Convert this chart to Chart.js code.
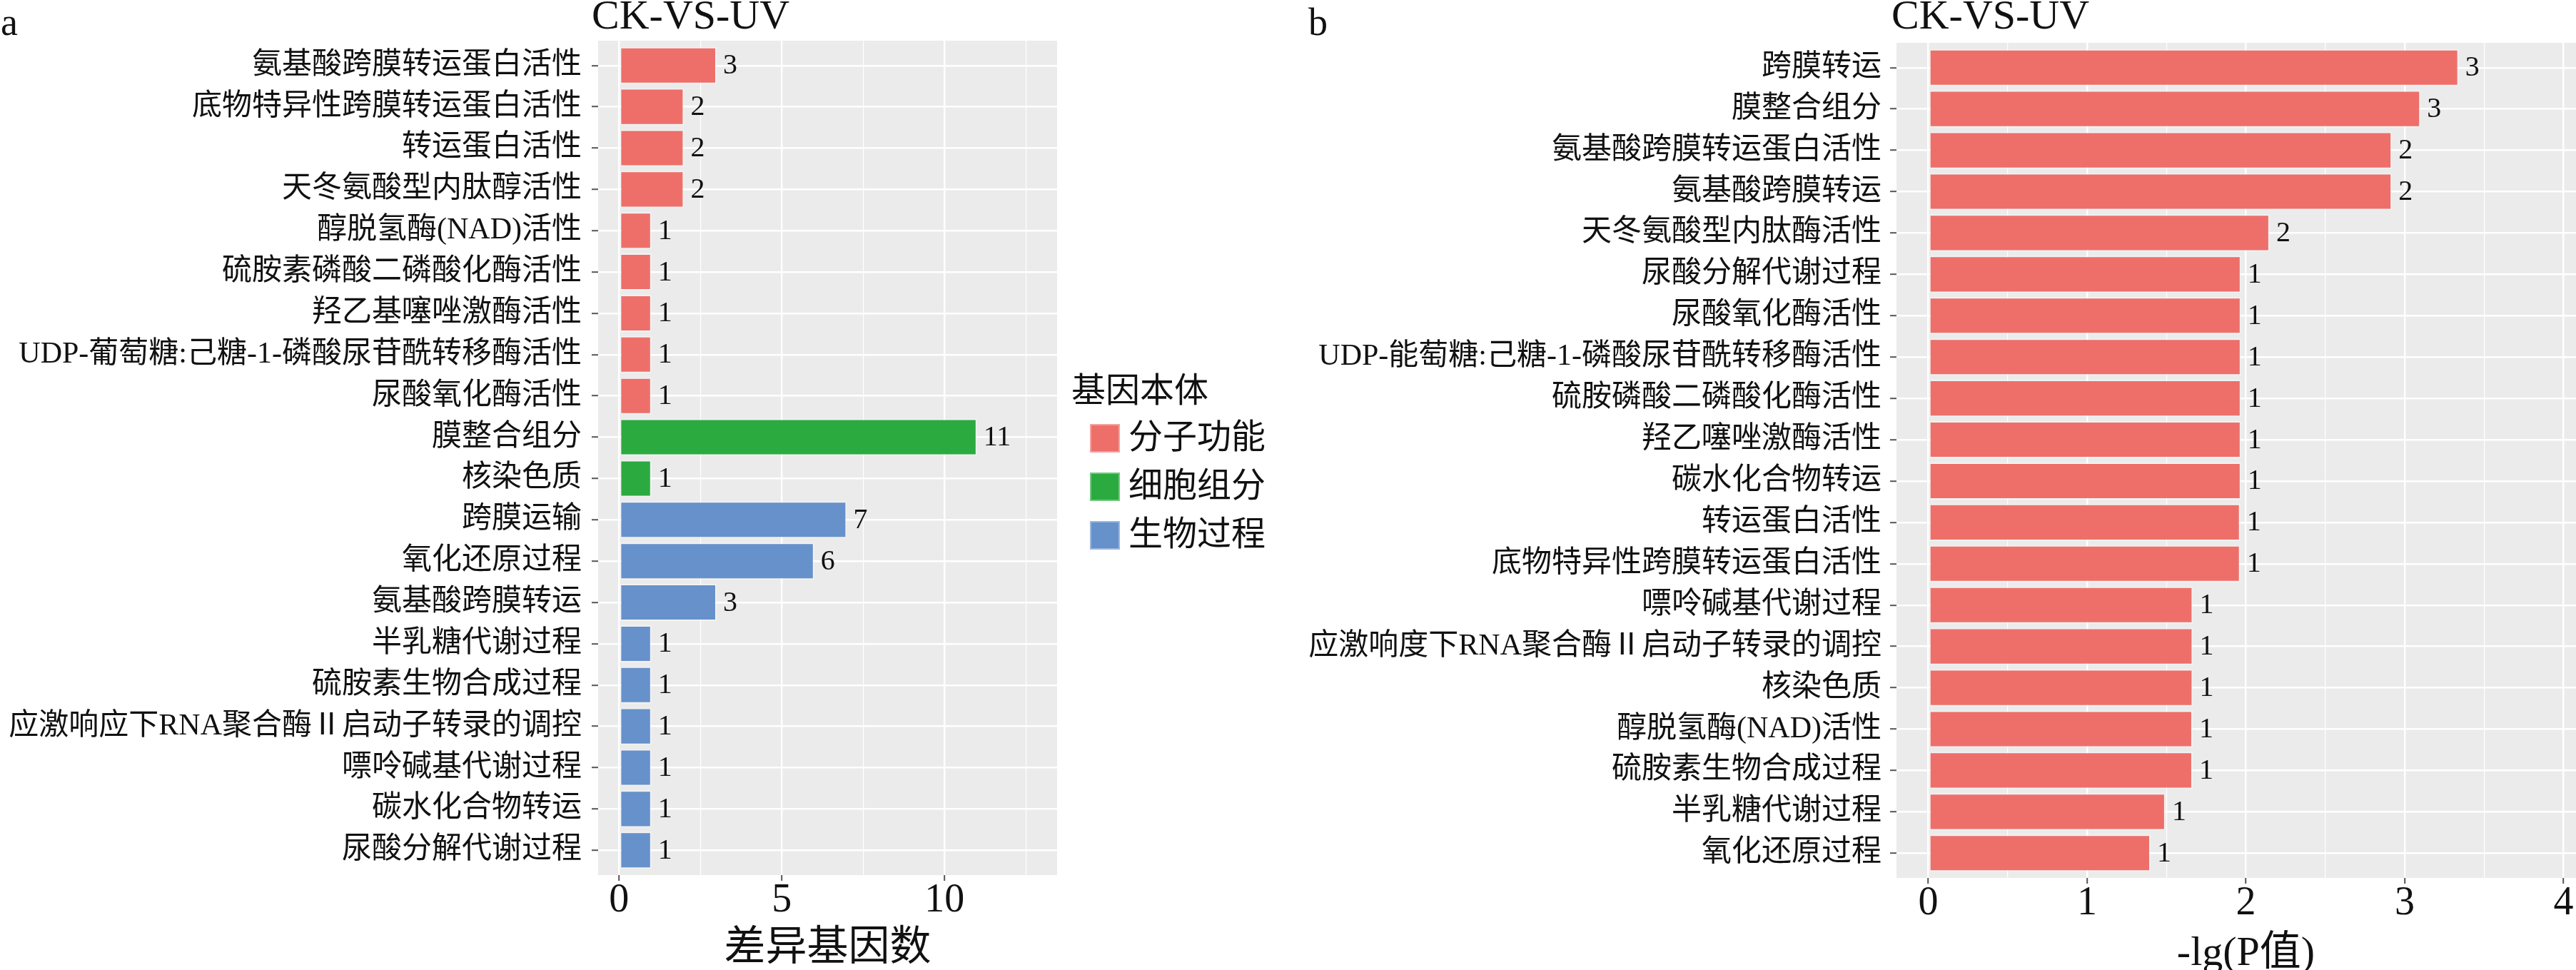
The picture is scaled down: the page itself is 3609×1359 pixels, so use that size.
<!DOCTYPE html>
<html><head><meta charset="utf-8">
<script src="https://cdn.jsdelivr.net/npm/chart.js@4.4.1/dist/chart.umd.min.js"></script>
<style>
html,body{margin:0;padding:0;background:#fff;width:3609px;height:1359px;overflow:hidden;}
#wrap{position:relative;width:3609px;height:1359px;overflow:hidden;background:#fff;}
canvas{position:absolute;top:0;}
#ca{left:0;}
#cb{left:1800px;}
</style></head><body>
<div id="wrap"><canvas id="ca" width="1790" height="1359"></canvas><canvas id="cb" width="1860" height="1366"></canvas></div>
<script>
// ---------- data ----------
const titleText = 'CK-VS-UV';
const panelLetters = ['a', 'b'];

const catsA = [
  '氨基酸跨膜转运蛋白活性',
  '底物特异性跨膜转运蛋白活性',
  '转运蛋白活性',
  '天冬氨酸型内肽醇活性',
  '醇脱氢酶(NAD)活性',
  '硫胺素磷酸二磷酸化酶活性',
  '羟乙基噻唑激酶活性',
  'UDP-葡萄糖:己糖-1-磷酸尿苷酰转移酶活性',
  '尿酸氧化酶活性',
  '膜整合组分',
  '核染色质',
  '跨膜运输',
  '氧化还原过程',
  '氨基酸跨膜转运',
  '半乳糖代谢过程',
  '硫胺素生物合成过程',
  '应激响应下RNA聚合酶Ⅱ启动子转录的调控',
  '嘌呤碱基代谢过程',
  '碳水化合物转运',
  '尿酸分解代谢过程'
];
const valsA = [3, 2, 2, 2, 1, 1, 1, 1, 1, 11, 1, 7, 6, 3, 1, 1, 1, 1, 1, 1];
const groupsA = [0, 0, 0, 0, 0, 0, 0, 0, 0, 1, 1, 2, 2, 2, 2, 2, 2, 2, 2, 2];
const legendTitle = '基因本体';
const groupNames = ['分子功能', '细胞组分', '生物过程'];
const groupColors = ['#EE6F6A', '#2BAA40', '#6691CB'];
const xTicksA = [0, 2.5, 5, 7.5, 10, 12.5];
const xTitleA = '差异基因数';

const catsB = [
  '跨膜转运',
  '膜整合组分',
  '氨基酸跨膜转运蛋白活性',
  '氨基酸跨膜转运',
  '天冬氨酸型内肽酶活性',
  '尿酸分解代谢过程',
  '尿酸氧化酶活性',
  'UDP-能萄糖:己糖-1-磷酸尿苷酰转移酶活性',
  '硫胺磷酸二磷酸化酶活性',
  '羟乙噻唑激酶活性',
  '碳水化合物转运',
  '转运蛋白活性',
  '底物特异性跨膜转运蛋白活性',
  '嘌呤碱基代谢过程',
  '应激响度下RNA聚合酶Ⅱ启动子转录的调控',
  '核染色质',
  '醇脱氢酶(NAD)活性',
  '硫胺素生物合成过程',
  '半乳糖代谢过程',
  '氧化还原过程'
];
const valsB = [3.34, 3.10, 2.92, 2.92, 2.15, 1.97, 1.97, 1.97, 1.97, 1.97, 1.97, 1.965, 1.965, 1.667, 1.667, 1.667, 1.665, 1.665, 1.494, 1.40];
const countsB = [3, 3, 2, 2, 2, 1, 1, 1, 1, 1, 1, 1, 1, 1, 1, 1, 1, 1, 1, 1];
const xTicksB = [0, 0.5, 1, 1.5, 2, 2.5, 3, 3.5, 4];
const xTitleB = '-lg(P值)';

// ---------- styles ----------
const FF = '"Liberation Serif","Noto Sans CJK SC",serif';
const PANEL_BG = '#EBEBEB';

function makePanel(canvas, o) {
  const n = o.cats.length;
  const isMajor = v => Math.abs(v / o.majorStep - Math.round(v / o.majorStep)) < 1e-9;
  const panelPlugin = {
    id: 'panelDecor',
    beforeDraw(chart) {
      const {ctx, chartArea: a} = chart;
      ctx.save();
      ctx.fillStyle = PANEL_BG;
      ctx.fillRect(a.left, a.top, a.right - a.left, a.bottom - a.top);
      ctx.restore();
    },
    afterDatasetsDraw(chart) {
      const {ctx, chartArea: a} = chart;
      const meta = chart.getDatasetMeta(0);
      ctx.save();
      ctx.fillStyle = '#111';
      ctx.font = '40px ' + FF;
      ctx.textBaseline = 'middle';
      ctx.textAlign = 'left';
      meta.data.forEach((bar, i) => {
        ctx.fillText(String(o.barLabels[i]), bar.x + 9, bar.y + 1);
      });
      // title and panel letter
      ctx.fillStyle = '#111';
      ctx.textBaseline = 'alphabetic';
      ctx.font = '58px ' + FF;
      ctx.fillText(titleText, a.left - o.titleShift, 40);
      ctx.font = '54px ' + FF;
      ctx.fillText(o.letter, o.letterX, 49);
      // legend
      if (o.legend) {
        const L = o.legend;
        ctx.font = '48px ' + FF;
        ctx.textBaseline = 'middle';
        ctx.fillText(legendTitle, L.titleX, L.titleY);
        groupNames.forEach((g, k) => {
          const cy = L.firstY + k * L.stepY;
          ctx.fillStyle = groupColors[k];
          ctx.fillRect(L.keyX, cy - L.keyH / 2, L.keyW, L.keyH);
          ctx.strokeStyle = 'rgba(255,255,255,0.35)';
          ctx.lineWidth = 2;
          ctx.strokeRect(L.keyX + 1, cy - L.keyH / 2 + 1, L.keyW - 2, L.keyH - 2);
          ctx.fillStyle = '#111';
          ctx.fillText(g, L.textX, cy + 1);
        });
      }
      ctx.restore();
    }
  };

  return new Chart(canvas, {
    type: 'bar',
    data: {
      datasets: [{
        data: o.vals.map((v, i) => ({x: v, y: i})),
        backgroundColor: o.colors,
        borderColor: 'rgba(255,255,255,0.35)',
        borderWidth: 2,
        borderSkipped: false,
        barPercentage: 0.9,
        categoryPercentage: 1.0
      }]
    },
    options: {
      indexAxis: 'y',
      responsive: false,
      maintainAspectRatio: false,
      animation: false,
      events: [],
      layout: {padding: {left: 0, top: o.top, right: o.padRight, bottom: 0}},
      plugins: {legend: {display: false}, tooltip: {enabled: false}, title: {display: false}},
      scales: {
        x: {
          type: 'linear',
          min: o.xMin, max: o.xMax,
          offset: false,
          afterBuildTicks: s => { s.ticks = o.xTicks.map(v => ({value: v})); },
          afterFit: s => { s.height = o.xAxisH; },
          grid: {
            offset: false,
            color: '#FFFFFF',
            lineWidth: c => (c.tick && isMajor(c.tick.value)) ? 2.4 : 1.2,
            drawTicks: true,
            tickLength: 8,
            tickWidth: 2,
            tickColor: c => (c.tick && isMajor(c.tick.value)) ? '#555555' : 'rgba(0,0,0,0)'
          },
          border: {display: false},
          ticks: {
            autoSkip: false, maxRotation: 0, padding: 0, color: '#111',
            font: {family: FF, size: 56, lineHeight: 1},
            callback: v => isMajor(v) ? String(v) : ''
          },
          title: {display: true, text: o.xTitle, color: '#111', font: {family: FF, size: 58, lineHeight: 1}, padding: 0}
        },
        y: {
          type: 'linear',
          reverse: true,
          offset: false,
          min: -0.6, max: n - 1 + 0.6,
          afterBuildTicks: s => { s.ticks = o.cats.map((c, i) => ({value: i})); },
          afterFit: s => { s.width = o.yAxisW; },
          grid: {offset: false, color: '#FFFFFF', lineWidth: 2.4, drawTicks: true, tickLength: 9, tickWidth: 2, tickColor: '#555555'},
          border: {display: false},
          ticks: {
            autoSkip: false, padding: o.yPad, color: '#111',
            font: {family: FF, size: 42},
            callback: v => o.cats[v]
          }
        }
      }
    },
    plugins: [panelPlugin]
  });
}

makePanel(document.getElementById('ca'), {
  cats: catsA, vals: valsA, barLabels: valsA,
  colors: groupsA.map(g => groupColors[g]),
  xMin: -0.64, xMax: 13.46, xTicks: xTicksA, majorStep: 5, xTitle: xTitleA,
  top: 57, xAxisH: 1359 - 1226, yAxisW: 838, padRight: 1790 - 1481, yPad: 14,
  titleShift: 9, letter: panelLetters[0], letterX: 1,
  legend: {titleX: 1501, titleY: 550, keyX: 1527, keyW: 42, keyH: 40, firstY: 614, stepY: 68, textX: 1581}
});

makePanel(document.getElementById('cb'), {
  cats: catsB, vals: valsB, barLabels: countsB,
  colors: catsB.map(() => groupColors[0]),
  xMin: -0.2, xMax: 4.2, xTicks: xTicksB, majorStep: 1, xTitle: xTitleB,
  top: 60, xAxisH: 1366 - 1230, yAxisW: 2657 - 1800, padRight: 1860 - 3636 + 1800, yPad: 12,
  titleShift: 7, letter: panelLetters[1], letterX: 33,
  legend: null
});
</script>
</body></html>
